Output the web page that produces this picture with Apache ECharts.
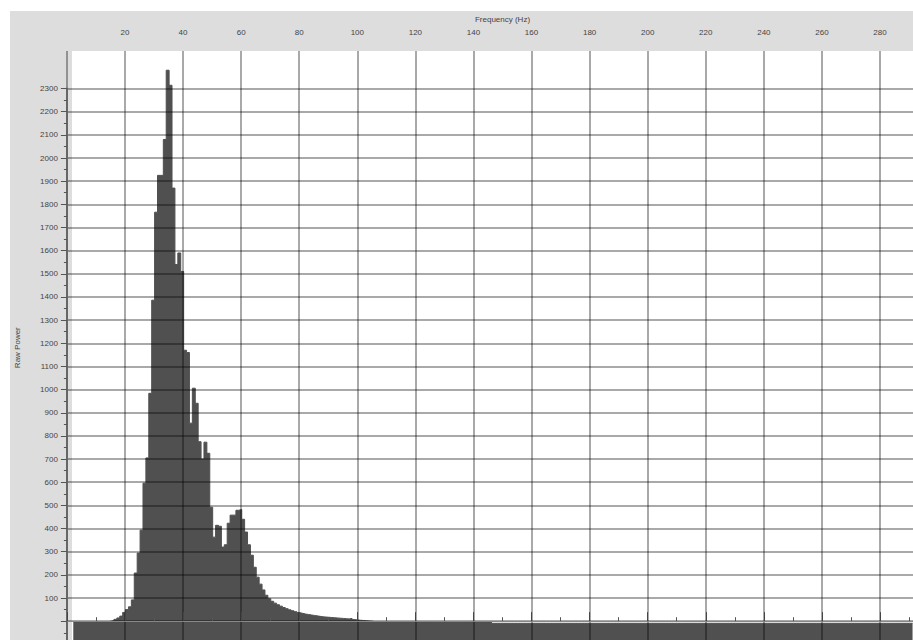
<!DOCTYPE html>
<html>
<head>
<meta charset="utf-8">
<script src="https://cdn.jsdelivr.net/npm/echarts@6/dist/echarts.min.js"></script>
<style>
html,body{margin:0;padding:0;background:#ffffff;}
#chart{width:913px;height:640px;}
</style>
</head>
<body>
<div id="chart"></div>
<script>
// ---- data ----
const xAxisTitle = 'Frequency (Hz)';
const yAxisTitle = 'Raw Power';
const xTickLabels = [20, 40, 60, 80, 100, 120, 140, 160, 180, 200, 220, 240, 260, 280];
const yTickLabels = [100, 200, 300, 400, 500, 600, 700, 800, 900, 1000, 1100, 1200,
  1300, 1400, 1500, 1600, 1700, 1800, 1900, 2000, 2100, 2200, 2300];
const firstBinStart = 2.2;   // Hz, left edge of first spectrum bin
const binWidth = 1;          // Hz
// raw power of each 1 Hz bin, starting at 2.2 Hz
const rawPower = [
  -2,-2,-2,-2,-2,-2,-2,-2,-2,-2,-2,-2,0,3,8,14,22,38,50,62,
  92,208,294,393,596,705,984,1386,1766,1925,1925,2080,2379,2314,1870,1540,1590,1510,1170,1160,
  855,1006,941,775,700,773,725,492,363,414,410,320,330,423,458,458,479,482,440,385,
  330,285,233,190,160,135,112,97,86,78,71,65,59,54,49,45,41,37,34,31,
  29,27,25,23,21,19,18,17,16,15,14,13,12,11,10,12,7,5,4,3,
  2,1,0,-2,-2,-2,-2,-2,-2,-2,-2,-2,-2,-2,-2,-2,-2,-2,-2,-2,
  -2,-2,-2,-2,-2,-2,-2,-2,-2,-2,-2,-2,-2,-2,-2,-2,-2,-2,-2,-2,
  -2,-2,-2,-2,-9,-9,-9,-9,-9,-9,-9,-9,-9,-9,-9,-9,-9,-9,-9,-9,
  -9,-9,-9,-9,-9,-9,-9,-9,-9,-9,-9,-9,-9,-9,-9,-9,-9,-9,-9,-9,
  -9,-9,-9,-9,-9,-9,-9,-9,-9,-9,-9,-9,-9,-9,-9,-9,-9,-9,-9,-9,
  -9,-9,-9,-9,-9,-9,-9,-9,-9,-9,-9,-9,-9,-9,-9,-9,-9,-9,-9,-9,
  -9,-9,-9,-9,-9,-9,-9,-9,-9,-9,-9,-9,-9,-9,-9,-9,-9,-9,-9,-9,
  -9,-9,-9,-9,-9,-9,-9,-9,-9,-9,-9,-9,-9,-9,-9,-9,-9,-9,-9,-9,
  -9,-9,-9,-9,-9,-9,-9,-9,-9,-9,-9,-9,-9,-9,-9,-9,-9,-9,-9,-9,
  -9,-9,-9,-9,-9,-9,-9,-9,-9
];

// ---- build step data ----
const stepData = rawPower.map((v, i) => [firstBinStart + i * binWidth, v]);
stepData.push([firstBinStart + rawPower.length * binWidth, rawPower[rawPower.length - 1]]);

// ---- layout ----
const zeroY = 621.2, pxPerUnit = 0.2316;
const plotLeft = 66.9, pxPerHz = 2.904;
const xMin = 0, xMax = 300;
const gridRight = 913 - (plotLeft + (xMax - xMin) * pxPerHz);
const yMin = -100;
const bottomPx = zeroY - yMin * pxPerUnit;          // pixel of yMin
const gridBottom = 640 - bottomPx;
const dataTop = 51;
const dataYMax = yMin + (bottomPx - dataTop) / pxPerUnit;
const gridTop2 = zeroY - 2300 * pxPerUnit;

const fontFam = '"Liberation Sans", "DejaVu Sans", sans-serif';
const lineCol = 'rgba(0,0,0,0.45)';

const chart = echarts.init(document.getElementById('chart'), null, {renderer: 'svg'});
chart.setOption({
  backgroundColor: '#ffffff',
  animation: false,
  graphic: [
    {type: 'rect', z: -10, shape: {x: 10, y: 11, width: 903, height: dataTop - 11}, style: {fill: '#dddddd'}},
    {type: 'rect', z: -10, shape: {x: 10, y: 11, width: 62, height: 629}, style: {fill: '#dddddd'}}
  ],
  grid: [
    {left: plotLeft, right: gridRight, top: dataTop, bottom: gridBottom, containLabel: false, outerBoundsMode: 'none'},
    {left: plotLeft, right: gridRight, top: gridTop2, bottom: gridBottom, containLabel: false, outerBoundsMode: 'none'}
  ],
  xAxis: [
    {
      gridIndex: 0, type: 'value', position: 'top', min: xMin, max: xMax, interval: 20, z: 3,
      name: xAxisTitle, nameLocation: 'middle', nameGap: 27,
      nameTextStyle: {fontSize: 8, color: '#444', fontFamily: fontFam},
      axisLine: {show: true, lineStyle: {color: '#888', width: 1}},
      axisTick: {show: true, length: 9, lineStyle: {color: '#444', width: 1}},
      minorTick: {show: true, splitNumber: 2, length: 4, lineStyle: {color: '#555', width: 1}},
      axisLabel: {show: true, margin: 15, fontSize: 8, color: '#444', fontFamily: fontFam,
        formatter: v => (xTickLabels.indexOf(v) >= 0 ? String(v) : '')},
      splitLine: {show: true, lineStyle: {color: lineCol, width: 1.5}},
      minorSplitLine: {show: false}
    },
    {
      gridIndex: 1, type: 'value', position: 'bottom', min: xMin, max: xMax, interval: 20,
      show: false
    }
  ],
  yAxis: [
    {
      gridIndex: 0, type: 'value', min: yMin, max: dataYMax,
      name: yAxisTitle, nameLocation: 'middle', nameGap: 45, nameRotate: 90,
      nameTextStyle: {fontSize: 8, color: '#444', fontFamily: fontFam},
      axisLine: {show: false}, axisTick: {show: false}, axisLabel: {show: false},
      splitLine: {show: false}
    },
    {
      gridIndex: 1, type: 'value', min: yMin, max: 2300, interval: 100, z: 3,
      axisLine: {show: true, onZero: false, lineStyle: {color: '#666', width: 2}},
      axisTick: {show: true, length: 6, lineStyle: {color: '#555', width: 1}},
      minorTick: {show: true, splitNumber: 2, length: 3, lineStyle: {color: '#555', width: 1}},
      axisLabel: {show: true, margin: 9, fontSize: 8, color: '#444', fontFamily: fontFam,
        formatter: v => (yTickLabels.indexOf(v) >= 0 ? String(v) : '')},
      splitLine: {show: true, lineStyle: {color: lineCol, width: 1.5}}
    }
  ],
  series: [
    {
      type: 'line', xAxisIndex: 0, yAxisIndex: 0, z: 2,
      data: stepData, step: 'end', symbol: 'none', smooth: false,
      lineStyle: {color: '#505050', width: 1},
      areaStyle: {color: '#505050', opacity: 1, origin: 'start'}
    }
  ]
});
</script>
</body>
</html>
